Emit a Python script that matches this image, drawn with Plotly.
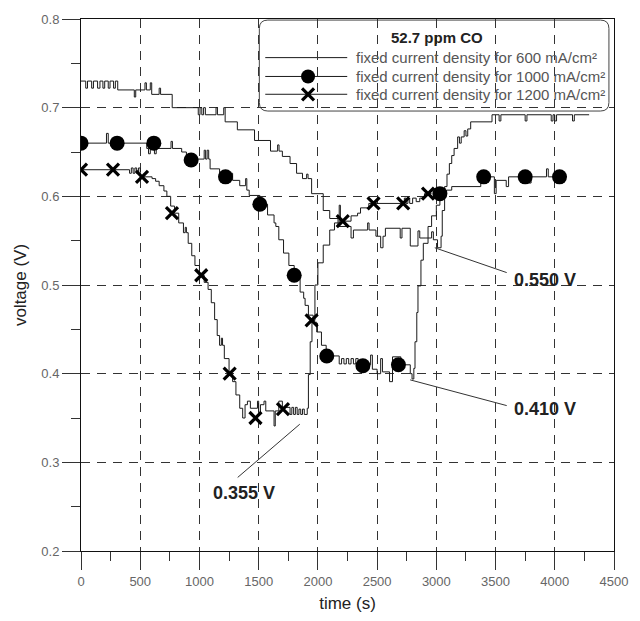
import plotly.graph_objects as go

# ---------------- data ----------------
# 600 mA/cm2 (plain line)
t600 = [0, 40, 55, 90, 105, 140, 160, 185, 200, 230, 245, 275, 290, 310, 450, 462, 540, 552, 585, 597,
        660, 672, 770, 990, 1005, 1020, 1035, 1050, 1140, 1152, 1205, 1217, 1320, 1465, 1600, 1660, 1672,
        1700, 1765, 1820, 1870, 1905, 1917, 1947, 2045, 2100, 2170, 2280, 2300, 2420, 2432, 2490, 2530,
        2550, 2570, 2695, 2710, 2780, 2845, 2860, 2905, 2960, 2975, 3010, 3040, 3050, 3070, 3090, 3110,
        3130, 3150, 3180, 3195, 3210, 3235, 3250, 3265, 3290, 3470, 3530, 3545, 3750, 3765, 3970, 3985,
        4000, 4015, 4150, 4165, 4290]
v600 = [0.73, 0.722, 0.73, 0.722, 0.73, 0.722, 0.73, 0.722, 0.73, 0.722, 0.73, 0.722, 0.73, 0.72, 0.712,
        0.72, 0.728, 0.72, 0.728, 0.715, 0.722, 0.715, 0.70, 0.692, 0.70, 0.692, 0.70, 0.692, 0.70, 0.692,
        0.70, 0.684, 0.675, 0.663, 0.651, 0.658, 0.651, 0.645, 0.637, 0.626, 0.62, 0.625, 0.62, 0.603,
        0.584, 0.575, 0.566, 0.553, 0.562, 0.57, 0.562, 0.555, 0.542, 0.555, 0.564, 0.553, 0.564, 0.544,
        0.561, 0.553, 0.553, 0.56, 0.551, 0.542, 0.555, 0.584, 0.611, 0.625, 0.637, 0.646, 0.654, 0.667,
        0.66, 0.667, 0.674, 0.668, 0.676, 0.684, 0.692, 0.685, 0.692, 0.685, 0.692, 0.685, 0.692, 0.685,
        0.692, 0.685, 0.692, 0.692]

# 1000 mA/cm2 (line)
t1000 = [0, 215, 230, 555, 570, 585, 620, 635, 760, 772, 850, 890, 1040, 1052, 1065, 1078, 1090, 1170,
         1280, 1340, 1390, 1400, 1420, 1510, 1575, 1630, 1645, 1670, 1710, 1755, 1800, 1850, 1880, 1892,
         1920, 1960, 1990, 2030, 2070, 2180, 2200, 2220, 2240, 2260, 2280, 2300, 2320, 2340, 2445, 2460,
         2500, 2530, 2545, 2605, 2630, 2700, 2780, 2795, 2810, 2820, 2835, 2845, 2870, 2890, 2930, 2960,
         3000, 3030, 3085, 3130, 3375, 3490, 3505, 3590, 3610, 3780, 3800, 3930, 3945, 4040]
v1000 = [0.66, 0.671, 0.66, 0.654, 0.648, 0.654, 0.648, 0.654, 0.662, 0.654, 0.65, 0.642, 0.652, 0.642,
         0.652, 0.642, 0.631, 0.626, 0.618, 0.612, 0.62, 0.607, 0.601, 0.591, 0.579, 0.57, 0.566, 0.551,
         0.536, 0.522, 0.511, 0.492, 0.485, 0.477, 0.466, 0.458, 0.447, 0.432, 0.42, 0.411, 0.417, 0.411,
         0.417, 0.411, 0.417, 0.411, 0.417, 0.41, 0.421, 0.405, 0.40, 0.417, 0.402, 0.391, 0.419, 0.41,
         0.40, 0.394, 0.406, 0.436, 0.469, 0.499, 0.528, 0.547, 0.566, 0.578, 0.59, 0.603, 0.607, 0.611,
         0.622, 0.603, 0.618, 0.611, 0.622, 0.615, 0.622, 0.631, 0.622, 0.622]
t1000_mk = [0, 305, 615, 930, 1220, 1510, 1800, 2075, 2380, 2680, 3030, 3400, 3750, 4040]
v1000_mk = [0.66, 0.66, 0.66, 0.641, 0.622, 0.591, 0.511, 0.42, 0.409, 0.41, 0.603, 0.622, 0.622, 0.622]

# 1200 mA/cm2 (line)
t1200 = [0, 410, 425, 440, 455, 470, 485, 500, 600, 630, 660, 700, 725, 757, 790, 825, 865, 880, 890, 905,
         935, 962, 1000, 1040, 1073, 1100, 1128, 1150, 1170, 1185, 1195, 1210, 1250, 1280, 1308, 1340, 1365,
         1385, 1405, 1430, 1490, 1500, 1515, 1545, 1560, 1630, 1640, 1670, 1700, 1765, 1780, 1795, 1810,
         1825, 1840, 1855, 1870, 1885, 1910, 1920, 1935, 1950, 1975, 2000, 2045, 2100, 2140, 2180, 2190,
         2280, 2335, 2360, 2430, 2730, 2745, 2760, 2775, 2800, 2830, 2860, 2900, 2960]
v1200 = [0.63, 0.626, 0.632, 0.626, 0.632, 0.626, 0.632, 0.622, 0.62, 0.617, 0.612, 0.606, 0.60, 0.589,
         0.581, 0.57, 0.559, 0.565, 0.559, 0.547, 0.533, 0.522, 0.511, 0.503, 0.495, 0.48, 0.461, 0.443,
         0.432, 0.44, 0.432, 0.417, 0.40, 0.391, 0.376, 0.361, 0.35, 0.365, 0.369, 0.361, 0.369, 0.355,
         0.365, 0.369, 0.358, 0.341, 0.358, 0.369, 0.362, 0.354, 0.362, 0.354, 0.362, 0.354, 0.36, 0.354,
         0.36, 0.354, 0.361, 0.399, 0.436, 0.46, 0.50, 0.525, 0.545, 0.562, 0.57, 0.59, 0.572, 0.578, 0.581,
         0.587, 0.592, 0.598, 0.592, 0.598, 0.592, 0.598, 0.594, 0.598, 0.603, 0.603]
t1200_mk = [0, 270, 515, 768, 1015, 1255, 1473, 1705, 1947, 2210, 2470, 2720, 2930]
v1200_mk = [0.63, 0.63, 0.622, 0.581, 0.511, 0.40, 0.35, 0.36, 0.46, 0.572, 0.592, 0.592, 0.603]

legend_title = "52.7 ppm CO"
names = ["fixed current density for 600 mA/cm²",
         "fixed current density for 1000 mA/cm²",
         "fixed current density for 1200 mA/cm²"]

# annotations: (label, point t, point v, text t, text v, leader end t, leader end v)
notes = [("0.550 V", 2987, 0.542, 3915, 0.506, 3594, 0.514),
         ("0.410 V", 2779, 0.393, 3915, 0.360, 3594, 0.364),
         ("0.355 V", 1847, 0.343, 1373, 0.265, 1323, 0.283)]

x_ticks = list(range(0, 4501, 500))
y_ticks = [0.2, 0.3, 0.4, 0.5, 0.6, 0.7, 0.8]

# ---------------- figure ----------------
FONT = "Liberation Sans, Arial, sans-serif"
LC = "#1a1a1a"
fig = go.Figure()

for tx, vy in [(t600, v600), (t1000, v1000), (t1200, v1200)]:
    fig.add_trace(go.Scatter(x=tx, y=vy, mode="lines", line=dict(color=LC, width=1, shape="hv"),
                             showlegend=False, hoverinfo="skip"))
circle_mk = dict(symbol="circle", size=15, color="black")
x_mk = dict(symbol="x-thin", size=12, color="black", line=dict(color="black", width=3.2))
fig.add_trace(go.Scatter(x=t1000_mk, y=v1000_mk, mode="markers", marker=circle_mk, showlegend=False))
fig.add_trace(go.Scatter(x=t1200_mk, y=v1200_mk, mode="markers", marker=x_mk, showlegend=False))

# ---- hand-drawn legend (paper-fraction coordinates of the plot area) ----
leg_rows_y = [0.9274, 0.8920, 0.8585]
leg_line_x = (0.3457, 0.4995)
leg_mk_x = 0.4260
leg_text_x = 0.5122
shapes = []
annotations = []
x0, x1, y0, y1 = 0.3346, 0.9905, 0.827, 0.998
rx, ry = 0.016, 0.016
path = (f"M {x0+rx},{y1} L {x1-rx},{y1} Q {x1},{y1} {x1},{y1-ry} L {x1},{y0+ry} "
        f"Q {x1},{y0} {x1-rx},{y0} L {x0+rx},{y0} Q {x0},{y0} {x0},{y0+ry} L {x0},{y1-ry} "
        f"Q {x0},{y1} {x0+rx},{y1} Z")
shapes.append(dict(type="path", xref="paper", yref="paper", path=path,
                   line=dict(color="#444", width=1), fillcolor="white", layer="between"))
for yy, nm in zip(leg_rows_y, names):
    shapes.append(dict(type="line", xref="paper", yref="paper", x0=leg_line_x[0], x1=leg_line_x[1],
                       y0=yy, y1=yy, line=dict(color=LC, width=1), layer="between"))
    annotations.append(dict(x=leg_text_x, y=yy, xref="paper", yref="paper", text=nm, showarrow=False,
                            xanchor="left", yanchor="middle",
                            font=dict(family=FONT, size=15, color="#555")))
annotations.append(dict(x=0.667, y=0.9646, xref="paper", yref="paper", text=f"<b>{legend_title}</b>",
                        showarrow=False, xanchor="center", yanchor="middle",
                        font=dict(family=FONT, size=15, color="#222")))
fig.add_trace(go.Scatter(x=[leg_mk_x], y=[leg_rows_y[1]], xaxis="x2", yaxis="y2", mode="markers",
                         marker=dict(symbol="circle", size=14, color="black"), showlegend=False,
                         hoverinfo="skip"))
fig.add_trace(go.Scatter(x=[leg_mk_x], y=[leg_rows_y[2]], xaxis="x2", yaxis="y2", mode="markers",
                         marker=x_mk, showlegend=False, hoverinfo="skip"))

for (lab, pt, pv, tt, tv, et, ev) in notes:
    shapes.append(dict(type="line", xref="x", yref="y", x0=pt, y0=pv, x1=et, y1=ev,
                       line=dict(color="#333", width=1)))
    annotations.append(dict(x=tt, y=tv, xref="x", yref="y", text=f"<b>{lab}</b>", showarrow=False,
                            font=dict(family=FONT, size=18, color="#222")))

fig.update_layout(
    width=640, height=621,
    margin=dict(l=81, r=17, t=14, b=70),
    paper_bgcolor="white", plot_bgcolor="white",
    font=dict(family=FONT, size=13, color="#555"),
    shapes=shapes, annotations=annotations,
    showlegend=False,
    xaxis=dict(range=[0, 4500], tickvals=x_ticks, ticktext=[str(v) for v in x_ticks],
               ticks="outside", ticklen=18, tickcolor="#333", tickwidth=1,
               showline=True, linecolor="#111", linewidth=1, mirror=True,
               showgrid=True, gridcolor="#333", gridwidth=1, griddash="9px,7px",
               zeroline=False, tickfont=dict(size=13, color="#666"),
               minor=dict(dtick=250, ticks="outside", ticklen=9, tickcolor="#333", showgrid=False),
               title=dict(text="time (s)", font=dict(size=17, color="#222"), standoff=9)),
    yaxis=dict(range=[0.2, 0.8], tickvals=y_ticks, ticktext=[f"{v:.1f}" for v in y_ticks],
               ticks="outside", ticklen=18, tickcolor="#333", tickwidth=1,
               showline=True, linecolor="#111", linewidth=1, mirror=True,
               showgrid=True, gridcolor="#333", gridwidth=1, griddash="9px,7px",
               zeroline=False, tickfont=dict(size=13, color="#666"),
               minor=dict(dtick=0.05, ticks="outside", ticklen=9, tickcolor="#333", showgrid=False),
               title=dict(text="voltage (V)", font=dict(size=17, color="#222"), standoff=10)),
    xaxis2=dict(overlaying="x", range=[0, 1], visible=False),
    yaxis2=dict(overlaying="y", range=[0, 1], visible=False),
)

fig.write_html("out.html")
